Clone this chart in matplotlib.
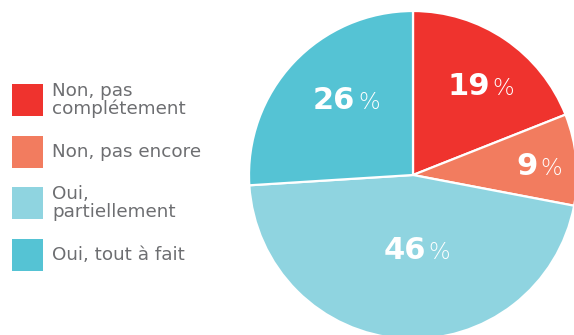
import matplotlib.pyplot as plt
from matplotlib.patches import Rectangle

# Answer shares (%), clockwise from 12 o'clock
categories = ["Non, pas\ncomplétement", "Non, pas encore", "Oui,\npartiellement", "Oui, tout à fait"]
shares = [19, 9, 46, 26]
colors = ["#EF332E", "#F27C5F", "#8FD4E0", "#55C3D4"]

# Where the "NN | %" split sits, relative to the pie centre, in radius units
label_spots = [(0.48, 0.49), (0.77, 0.0), (0.09, -0.51), (-0.34, 0.40)]

W, H = 574, 335
fig = plt.figure(figsize=(W / 100, H / 100), dpi=100)
ax = fig.add_axes([0, 0, 1, 1])

cx, cy, r = 413, H - 175, 164
ax.pie(shares, colors=colors, startangle=90, counterclock=False,
       center=(cx, cy), radius=r,
       wedgeprops=dict(edgecolor="white", linewidth=1.6))
ax.set_xlim(0, W)
ax.set_ylim(0, H)
ax.set_aspect("equal")
ax.axis("off")

for val, (dx, dy) in zip(shares, label_spots):
    x, y = cx + dx * r, cy + dy * r
    ax.text(x - 2, y, f"{val}", ha="right", va="baseline", color="white",
            fontsize=22, fontweight="bold", family="DejaVu Sans")
    ax.text(x + 1, y, "%", ha="left", va="baseline", color="white",
            fontsize=16.5, fontweight="light", family="DejaVu Sans")

# legend: coloured squares with grey text
row_tops = [84, 136, 187, 239]
for top, label, col in zip(row_tops, categories, colors):
    ax.add_patch(Rectangle((12, H - top - 32), 31, 32, color=col, lw=0))
    ax.text(52, H - top - 16, label, ha="left", va="center", color="#6D6E71",
            fontsize=13.2, linespacing=1.02, family="DejaVu Sans")

fig.savefig("out.png", dpi=100)
